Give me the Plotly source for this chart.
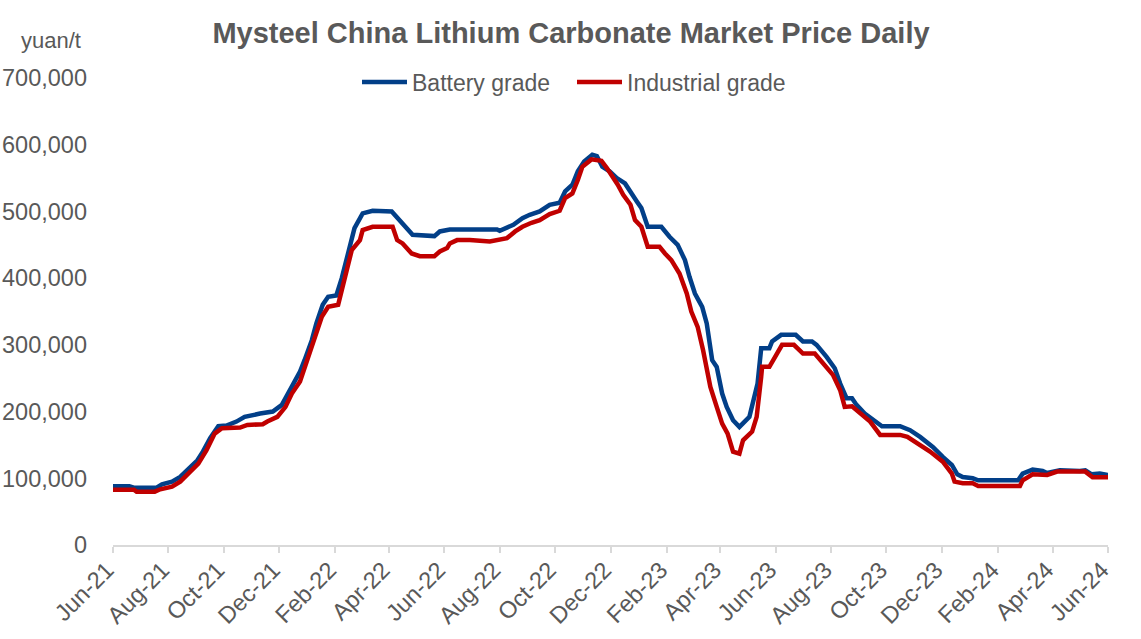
import plotly.graph_objects as go

battery_dates = [
    "2021-06-01", "2021-06-19", "2021-06-24", "2021-07-19", "2021-07-25", "2021-08-05",
    "2021-08-14", "2021-08-23", "2021-09-02", "2021-09-08", "2021-09-16", "2021-09-25",
    "2021-10-04", "2021-10-15", "2021-10-24", "2021-11-10", "2021-11-24", "2021-12-04",
    "2021-12-10", "2021-12-16", "2021-12-24", "2021-12-29", "2022-01-06", "2022-01-11",
    "2022-01-18", "2022-01-24", "2022-02-02", "2022-02-08", "2022-02-15", "2022-02-22",
    "2022-03-03", "2022-03-14", "2022-04-04", "2022-04-11", "2022-04-18", "2022-04-27",
    "2022-05-21", "2022-05-27", "2022-06-07", "2022-07-29", "2022-08-01", "2022-08-16",
    "2022-08-26", "2022-09-03", "2022-09-14", "2022-09-25", "2022-10-06", "2022-10-12",
    "2022-10-20", "2022-10-26", "2022-11-02", "2022-11-11", "2022-11-16", "2022-11-22",
    "2022-11-30", "2022-12-08", "2022-12-17", "2022-12-25", "2022-12-30", "2023-01-04",
    "2023-01-11", "2023-01-26", "2023-02-04", "2023-02-13", "2023-02-21", "2023-02-26",
    "2023-03-04", "2023-03-12", "2023-03-17", "2023-03-23", "2023-03-28", "2023-04-03",
    "2023-04-08", "2023-04-15", "2023-04-22", "2023-05-03", "2023-05-09", "2023-05-12",
    "2023-05-16", "2023-05-25", "2023-05-28", "2023-06-07", "2023-06-23", "2023-07-01",
    "2023-07-11", "2023-07-16", "2023-07-27", "2023-08-05", "2023-08-11", "2023-08-18",
    "2023-08-24", "2023-08-29", "2023-09-07", "2023-09-16", "2023-09-26", "2023-10-16",
    "2023-10-27", "2023-11-07", "2023-11-21", "2023-12-02", "2023-12-12", "2023-12-18",
    "2023-12-24", "2024-01-04", "2024-01-10", "2024-02-23", "2024-02-28", "2024-03-10",
    "2024-03-21", "2024-03-26", "2024-04-09", "2024-05-01", "2024-05-07", "2024-05-14",
    "2024-05-23", "2024-06-01",
]
battery_values = [
    88000, 88000, 86000, 86000, 91000, 95000,
    102000, 113000, 127000, 140000, 160000, 178000,
    179000, 185000, 192000, 197000, 200000, 210000,
    225000, 242000, 260000, 277000, 307000, 332000,
    360000, 372000, 374000, 400000, 437000, 475000,
    497000, 501000, 500000, 490000, 480000, 465000,
    463000, 470000, 473000, 473000, 471000, 480000,
    490000, 495000, 500000, 510000, 513000, 530000,
    540000, 560000, 575000, 585000, 583000, 567000,
    560000, 550000, 542000, 527000, 515000, 505000,
    477000, 477000, 462000, 450000, 427000, 402000,
    377000, 357000, 332000, 277000, 267000, 227000,
    207000, 187000, 177000, 192000, 225000, 242000,
    295000, 295000, 305000, 315000, 315000, 305000,
    305000, 300000, 282000, 265000, 242000, 220000,
    220000, 210000, 197000, 187000, 178000, 178000,
    172000, 162000, 147000, 132000, 120000, 106000,
    102000, 100000, 97000, 97000, 107000, 113000,
    111000, 108000, 112000, 111000, 112000, 106000,
    107000, 105000,
]

industrial_dates = [
    "2021-06-01", "2021-06-24", "2021-06-27", "2021-07-17", "2021-07-23", "2021-08-05",
    "2021-08-14", "2021-08-25", "2021-09-03", "2021-09-12", "2021-09-21", "2021-09-29",
    "2021-10-19", "2021-10-27", "2021-11-13", "2021-11-18", "2021-11-29", "2021-12-08",
    "2021-12-15", "2021-12-24", "2021-12-29", "2022-01-04", "2022-01-11", "2022-01-17",
    "2022-01-24", "2022-02-04", "2022-02-08", "2022-02-14", "2022-02-19", "2022-02-28",
    "2022-03-03", "2022-03-14", "2022-04-05", "2022-04-10", "2022-04-16", "2022-04-26",
    "2022-05-05", "2022-05-21", "2022-05-27", "2022-06-04", "2022-06-07", "2022-06-15",
    "2022-06-29", "2022-07-21", "2022-08-09", "2022-08-18", "2022-08-26", "2022-09-05",
    "2022-09-14", "2022-09-25", "2022-10-06", "2022-10-12", "2022-10-20", "2022-10-26",
    "2022-10-31", "2022-11-10", "2022-11-21", "2022-11-27", "2022-12-04", "2022-12-09",
    "2022-12-15", "2022-12-23", "2022-12-28", "2023-01-04", "2023-01-11", "2023-01-24",
    "2023-01-30", "2023-02-06", "2023-02-15", "2023-02-23", "2023-02-28", "2023-03-07",
    "2023-03-13", "2023-03-21", "2023-03-28", "2023-04-03", "2023-04-09", "2023-04-15",
    "2023-04-22", "2023-04-26", "2023-05-06", "2023-05-11", "2023-05-16", "2023-05-17",
    "2023-05-25", "2023-06-02", "2023-06-08", "2023-06-21", "2023-07-01", "2023-07-14",
    "2023-07-23", "2023-08-03", "2023-08-11", "2023-08-16", "2023-08-24", "2023-09-02",
    "2023-09-13", "2023-09-24", "2023-10-16", "2023-10-24", "2023-11-04", "2023-11-18",
    "2023-12-02", "2023-12-12", "2023-12-15", "2023-12-24", "2024-01-04", "2024-01-10",
    "2024-02-25", "2024-02-28", "2024-03-10", "2024-03-26", "2024-04-06", "2024-05-01",
    "2024-05-07", "2024-05-15", "2024-06-01",
]
industrial_values = [
    83000, 83000, 80000, 80000, 83500, 87500,
    95000, 110000, 122000, 142000, 167000, 175000,
    176000, 180000, 181000, 185000, 192000, 207000,
    227000, 245000, 265000, 292000, 320000, 342000,
    357000, 360000, 382000, 412000, 442000, 457000,
    472000, 477000, 477000, 457000, 452000, 437000,
    433000, 433000, 440000, 445000, 452000, 457000,
    457000, 455000, 460000, 470000, 477000, 483000,
    487000, 496000, 501000, 520000, 527000, 547000,
    567000, 578000, 576000, 565000, 552000, 540000,
    525000, 510000, 487000, 477000, 447000, 447000,
    437000, 427000, 407000, 377000, 350000, 327000,
    292000, 237000, 207000, 182000, 167000, 140000,
    137000, 157000, 170000, 192000, 252000, 267000,
    267000, 287000, 300000, 300000, 287000, 287000,
    272000, 255000, 232000, 207000, 208000, 197000,
    185000, 165000, 165000, 162000, 152000, 140000,
    125000, 107000, 95000, 92500, 92500, 88500,
    88500, 97000, 106000, 105000, 110000, 109000,
    110000, 101500, 101500,
]

title_text = "Mysteel China Lithium Carbonate Market Price Daily"
unit_text = "yuan/t"
series_names = ["Battery grade", "Industrial grade"]
series_colors = ["#023F88", "#C00000"]

FONT = "Liberation Sans, Arial, sans-serif"
GREY = "#595959"
FS = 23.5

L, T = 113, 78
PW, PH = 995, 467
W, H = 1141, 639

fig = go.Figure()
fig.add_trace(go.Scatter(x=battery_dates, y=battery_values, mode="lines",
                         name=series_names[0],
                         line=dict(color=series_colors[0], width=4.5)))
fig.add_trace(go.Scatter(x=industrial_dates, y=industrial_values, mode="lines",
                         name=series_names[1],
                         line=dict(color=series_colors[1], width=4.5)))

fig.update_layout(
    width=W, height=H,
    margin=dict(l=L, r=W - L - PW, t=T, b=H - T - PH, autoexpand=False),
    paper_bgcolor="white", plot_bgcolor="white",
    font=dict(family=FONT, size=FS, color=GREY),
    title=dict(text="<b>" + title_text + "</b>", x=571 / W, xanchor="center",
               y=1 - 33 / H, yanchor="middle",
               font=dict(family=FONT, size=29, color=GREY)),
    legend=dict(orientation="h", x=(572 - L) / PW, xanchor="center",
                y=1 - 4 / PH, yanchor="middle",
                font=dict(family=FONT, size=23, color=GREY),
                bgcolor="rgba(0,0,0,0)", tracegroupgap=0,
                itemwidth=45, entrywidth=155, entrywidthmode="pixels"),
    showlegend=True,
    annotations=[dict(text=unit_text, xref="paper", yref="paper",
                      x=(51 - L) / PW, y=(545 - 40) / PH, xanchor="center", yanchor="middle",
                      showarrow=False, font=dict(family=FONT, size=22, color=GREY))],
)
fig.update_xaxes(type="date", range=["2021-06-01", "2024-06-01"], automargin=False,
                 tick0="2021-06-01", dtick="M2", tickformat="%b-%y",
                 tickangle=-45, ticks="outside", ticklen=6, tickwidth=2,
                 tickcolor="#D9D9D9", showline=True, linecolor="#D9D9D9",
                 linewidth=2, showgrid=False, zeroline=False,
                 ticklabelshift=-6, ticklabelstandoff=-6,
                 tickfont=dict(family=FONT, size=FS, color=GREY))
fig.update_yaxes(range=[0, 700000], dtick=100000, tickformat=",d", automargin=False,
                 showgrid=False, zeroline=False, showline=False, ticks="",
                 ticklabelstandoff=25,
                 tickfont=dict(family=FONT, size=FS, color=GREY))

fig.write_html("out.html", config={"displayModeBar": False},
               post_script="document.body.style.margin='0';")
